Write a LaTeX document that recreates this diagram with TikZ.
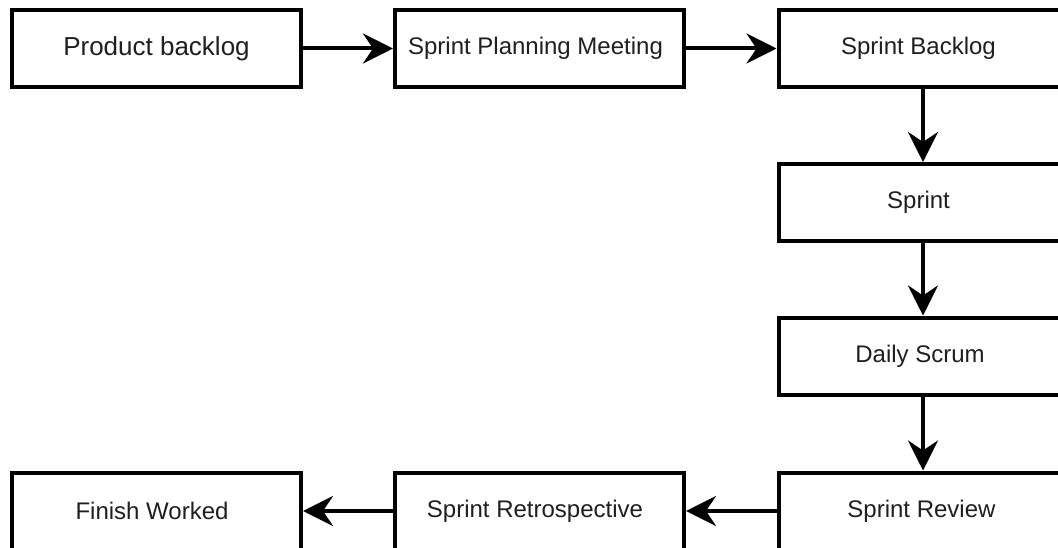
\documentclass[tikz,border=0pt]{standalone}
\usepackage{fontspec}
\setmainfont{Liberation Sans}
\usetikzlibrary{arrows.meta}
\begin{document}
\begin{tikzpicture}[x=1pt,y=-1pt,
  box/.style={draw=black,line width=4pt,minimum width=289pt,minimum height=77pt,inner sep=0pt,font=\fontsize{24}{27}\selectfont,text=black!88},
  flow/.style={line width=4pt,-{Stealth[length=30pt,width=30pt,inset=10pt]}}]
\useasboundingbox (0,0) rectangle (1058,548);
\clip (0,0) rectangle (1058,548);
\fill[white] (0,0) rectangle (1058,548);
\node[box,font=\fontsize{26}{29}\selectfont] (pb) at (156.5,48.5) {Product backlog};
\node[box] (spm) at (539.5,48.5) {\hspace*{-8pt}Sprint Planning Meeting};
\node[box] (sb) at (923,48.5) {\hspace*{-9pt}Sprint Backlog};
\node[box] (s) at (923,202.5) {\hspace*{-9pt}Sprint};
\node[box] (ds) at (923,356) {\hspace*{-6pt}Daily Scrum};
\node[box] (sr) at (923,511) {\hspace*{-3pt}Sprint Review};
\node[box] (ret) at (539.5,511) {\hspace*{-9pt}Sprint Retrospective};
\node[box] (fw) at (156.5,511) {\hspace*{-9pt}Finish Worked};
\draw[flow] (pb) -- (spm);
\draw[flow] (spm) -- (sb);
\draw[flow] (sb) -- (s);
\draw[flow] (s) -- (ds);
\draw[flow] (ds) -- (sr);
\draw[flow] (sr) -- (ret);
\draw[flow] (ret) -- (fw);
\end{tikzpicture}
\end{document}
